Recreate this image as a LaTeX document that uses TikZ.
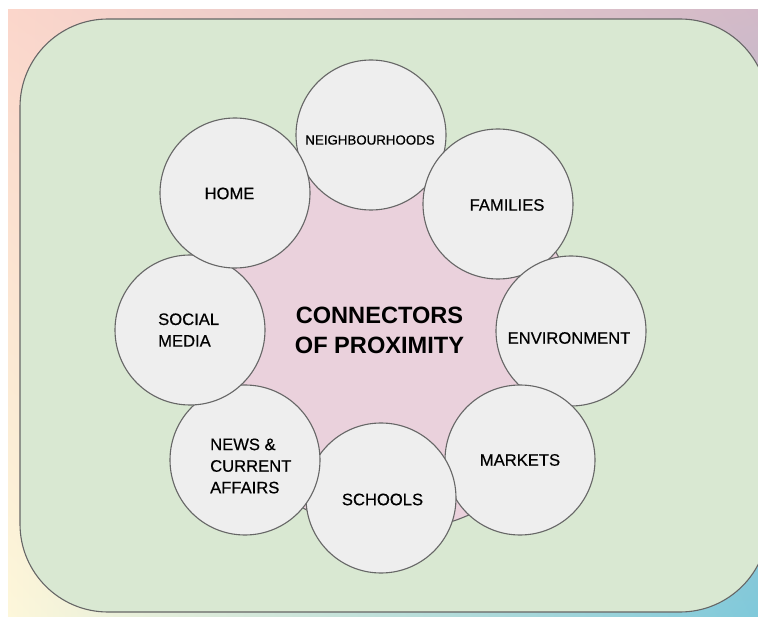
\documentclass[tikz,border=0pt]{standalone}
\usepackage{fontspec}
\usetikzlibrary{shadings}
\setmainfont{Liberation Sans}
\newfontfamily\lblfont{Liberation Sans}[FakeBold=0.45]
\newfontfamily\hubfont{Liberation Sans}
\definecolor{bgTL}{HTML}{FBD6CB}
\definecolor{bgTR}{HTML}{D2B9C8}
\definecolor{bgBL}{HTML}{FDF7DA}
\definecolor{bgBR}{HTML}{7FC9DA}
\definecolor{boxgreen}{HTML}{D9E8D2}
\definecolor{hubpink}{HTML}{EAD1DC}
\definecolor{bubble}{HTML}{EEEEEE}
\definecolor{edge}{HTML}{666666}
\tikzset{
  outline/.style={draw=edge, line width=1.1pt},
  bubblenode/.style={outline, fill=bubble, circle, minimum size=150pt, inner sep=0pt},
  lbl/.style={text=black, inner sep=0pt, font=\lblfont\fontsize{16.6}{21.6}\selectfont},
  smalllbl/.style={text=black, inner sep=0pt, font=\lblfont\fontsize{13.3}{16}\selectfont},
  hublbl/.style={text=black, inner sep=0pt, align=center, font=\hubfont\fontsize{23.6}{30}\selectfont\bfseries}
}
\begin{document}
\begin{tikzpicture}[x=1pt,y=-1pt]
\useasboundingbox (0,0) rectangle (758,617);
\clip (0,0) rectangle (758,617);
\shade[upper left=bgTL, upper right=bgTR, lower left=bgBL, lower right=bgBR] (8,10) rectangle (758,617);
\draw[outline, fill=boxgreen, rounded corners=88pt] (20,19) rectangle (768,612);
% hub
\node[outline, fill=hubpink, circle, minimum size=374pt, inner sep=0pt] (hub) at (393,344) {};
% bubbles
\node[bubblenode] (neigh) at (371,135) {};
\node[bubblenode] (fam) at (498,204) {};
\node[bubblenode] (env) at (571,331) {};
\node[bubblenode] (mkt) at (520,460) {};
\node[bubblenode] (sch) at (381,498) {};
\node[bubblenode] (news) at (245,460) {};
\node[bubblenode] (soc) at (190,330) {};
\node[bubblenode] (home) at (235,193) {};
% labels
\node[smalllbl] (tneigh) at (370,140) {NEIGHBOURHOODS};
\node[lbl] (tfam) at (507,205) {FAMILIES};
\node[lbl] (tenv) at (569,338) {ENVIRONMENT};
\node[lbl] (tmkt) at (520,460) {MARKETS};
\node[lbl] (tsch) at (382.5,499.5) {SCHOOLS};
\node[lbl, align=left, anchor=west] (tnews) at (210,466) {NEWS \&\\CURRENT\\AFFAIRS};
\node[lbl, align=left, anchor=west] (tsoc) at (158,330) {SOCIAL\\MEDIA};
\node[lbl] (thome) at (229.5,193.5) {HOME};
\node[hublbl] (thub) at (379.5,330) {CONNECTORS\\OF PROXIMITY};
\end{tikzpicture}
\end{document}
